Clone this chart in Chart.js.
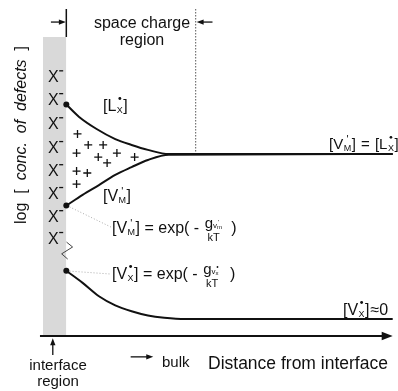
<!DOCTYPE html>
<html>
<head>
<meta charset="utf-8">
<script src="https://cdn.jsdelivr.net/npm/chart.js@4"></script>
<style>
  html, body { margin: 0; padding: 0; background: #fff; }
  #chart { display: block; }
</style>
</head>
<body>
<canvas id="chart" width="398" height="391"></canvas>
<script>
// distance from interface (arbitrary units, interface edge = 0) and log concentration
const distL = [0, 0.55, 1.3, 2.1, 2.8, 3.5, 4.4, 14];
const logL = [7.1, 6.72, 6.35, 6.04, 5.86, 5.71, 5.58, 5.58];
const distVM = [0, 0.7, 1.4, 2.1, 2.8, 3.5, 4.4, 14];
const logVM = [4.0, 4.33, 4.63, 4.94, 5.18, 5.40, 5.56, 5.58];
const distVX = [0, 0.7, 1.4, 2.1, 2.8, 3.5, 4.2, 5.1, 14];
const logVX = [2.0, 1.63, 1.22, 0.94, 0.76, 0.63, 0.56, 0.52, 0.52];
// positive charges in the space charge region
const plusX = [0.48, 0.94, 1.58, 0.44, 1.37, 2.17, 1.75, 2.93, 0.44, 0.90, 0.44];
const plusY = [6.20, 5.86, 5.86, 5.61, 5.49, 5.61, 5.31, 5.49, 5.06, 5.00, 4.66];
// negative charges in the interface region
const chargeY = [7.97, 7.27, 6.53, 5.80, 5.09, 4.39, 3.68, 3.01];
const interfaceStart = -1;
const bandTop = 9.17;
const spaceChargeEnd = 5.55;

const FONT = '"Liberation Sans", Arial, Helvetica, sans-serif';
const INK = '#111';

const pts = (xs, ys) => xs.map((x, i) => ({ x, y: ys[i] }));
const firstDot = (n) => Array.from({ length: n }, (_, i) => (i === 0 ? 3 : 0));

function arrow(ctx, x1, y1, x2, y2, head) {
  const a = Math.atan2(y2 - y1, x2 - x1);
  ctx.beginPath();
  ctx.moveTo(x1, y1);
  ctx.lineTo(x2 - Math.cos(a) * head * 0.8, y2 - Math.sin(a) * head * 0.8);
  ctx.stroke();
  ctx.beginPath();
  ctx.moveTo(x2, y2);
  ctx.lineTo(x2 - head * Math.cos(a) + head * 0.38 * Math.sin(a), y2 - head * Math.sin(a) - head * 0.38 * Math.cos(a));
  ctx.lineTo(x2 - head * Math.cos(a) - head * 0.38 * Math.sin(a), y2 - head * Math.sin(a) + head * 0.38 * Math.cos(a));
  ctx.closePath();
  ctx.fill();
}

// draws [A_sub^sup] and returns the x where it ends
function species(ctx, x, y, letter, sub, sup, size) {
  ctx.font = `${size}px ${FONT}`;
  ctx.fillText('[' + letter, x, y);
  let cx = x + ctx.measureText('[' + letter).width;
  const small = Math.round(size * 0.58);
  ctx.font = `${small}px ${FONT}`;
  const w = ctx.measureText(sub).width;
  ctx.fillText(sub, cx + 0.5, y + size * 0.12);
  if (sup === 'dot') {
    ctx.beginPath();
    ctx.arc(cx + 0.5 + w / 2, y - size * 0.78, size * 0.09, 0, Math.PI * 2);
    ctx.fill();
  } else {
    ctx.font = `${Math.round(size * 0.7)}px ${FONT}`;
    ctx.fillText("'", cx + w / 2 - 0.5, y - size * 0.38);
  }
  cx += w + 1;
  ctx.font = `${size}px ${FONT}`;
  ctx.fillText(']', cx, y);
  return cx + ctx.measureText(']').width;
}

function text(ctx, s, x, y, size, style) {
  ctx.font = `${style || ''} ${size}px ${FONT}`;
  ctx.fillText(s, x, y);
  return x + ctx.measureText(s).width;
}

function expFormula(ctx, x, y, letter, sub, sup) {
  let cx = species(ctx, x, y, letter, sub, sup, 16);
  cx = text(ctx, ' = exp( - ', cx, y, 16);
  // fraction g / kT
  const gx = cx + 1;
  let nx = text(ctx, 'g', gx, y - 5, 15);
  ctx.font = `8px ${FONT}`;
  ctx.fillText('v', nx, y - 5);
  const vw = ctx.measureText('v').width;
  ctx.font = `6px ${FONT}`;
  ctx.fillText(sub.toLowerCase(), nx + vw, y - 4);
  if (sup === 'dot') {
    ctx.beginPath();
    ctx.arc(nx + vw + 2, y - 12, 0.9, 0, Math.PI * 2);
    ctx.fill();
  } else {
    ctx.fillText("'", nx + vw + 1, y - 9.5);
  }
  const numEnd = nx + vw + 5.5;
  ctx.font = `11px ${FONT}`;
  const kw = ctx.measureText('kT').width;
  ctx.fillText('kT', gx + (numEnd - gx - kw) / 2, y + 8);
  text(ctx, '  )', numEnd, y, 16);
}

const annotate = {
  id: 'annotate',
  afterDatasetsDraw(chart) {
    const ctx = chart.ctx;
    const X = (v) => chart.scales.x.getPixelForValue(v);
    const Y = (v) => chart.scales.y.getPixelForValue(v);
    ctx.save();
    ctx.fillStyle = INK;
    ctx.strokeStyle = INK;
    ctx.textBaseline = 'alphabetic';

    // region arrows at top
    ctx.lineWidth = 1.3;
    arrow(ctx, X(-0.66), Y(9.63), X(-0.02), Y(9.63), 7);
    arrow(ctx, X(6.27), Y(9.63), X(spaceChargeEnd + 0.04), Y(9.63), 7);
    ctx.textAlign = 'center';
    text(ctx, 'space charge', 142, 28, 16);
    text(ctx, 'region', 142, 45, 16);

    // x axis arrow head
    ctx.lineWidth = 2;
    arrow(ctx, X(13.4), Y(0), X(14), Y(0), 11);

    // interface region / bulk arrows
    ctx.lineWidth = 1.3;
    arrow(ctx, X(-0.58), Y(-0.58), X(-0.58), Y(-0.07), 7);
    arrow(ctx, X(2.76), Y(-0.64), X(3.73), Y(-0.64), 7);
    ctx.textAlign = 'center';
    text(ctx, 'interface', 58, 370, 15);
    text(ctx, 'region', 58, 386, 15);
    ctx.textAlign = 'left';
    text(ctx, 'bulk', 162, 367, 15);
    text(ctx, 'Distance from interface', 208, 369, 17.5);

    // X- charges in the interface region
    chargeY.forEach((v) => {
      const cy = Y(v);
      const e = text(ctx, 'X', 48, cy + 6, 16);
      ctx.fillRect(e + 0.5, cy - 6, 4, 1.3);
    });

    // species labels
    species(ctx, 103, 111, 'L', 'X', 'dot', 16);
    species(ctx, 103, 201, 'V', 'M', 'prime', 16);
    let cx = species(ctx, 329, 149, 'V', 'M', 'prime', 15);
    cx = text(ctx, ' = ', cx + 1, 149, 15);
    species(ctx, cx + 1, 149, 'L', 'X', 'dot', 15);
    expFormula(ctx, 112, 233, 'V', 'M', 'prime');
    expFormula(ctx, 112, 279, 'V', 'X', 'dot');
    cx = species(ctx, 343, 315, 'V', 'X', 'dot', 16);
    text(ctx, '\u22480', cx + 1, 315, 16);

    // y axis title
    ctx.save();
    ctx.translate(22, 135);
    ctx.rotate(-Math.PI / 2);
    const parts = [['log  [  ', ''], ['conc.  of  defects', 'italic'], ['  ]', '']];
    let total = 0;
    parts.forEach(([s, st]) => { ctx.font = `${st} 16px ${FONT}`; total += ctx.measureText(s).width; });
    let tx = -total / 2;
    ctx.textBaseline = 'middle';
    parts.forEach(([s, st]) => { tx = text(ctx, s, tx, 0, 16, st); });
    ctx.restore();

    ctx.restore();
  }
};

const lineDs = (data, extra) => Object.assign({
  data, borderColor: INK, borderWidth: 2, pointRadius: 0, tension: 0, fill: false, clip: false
}, extra);

new Chart(document.getElementById('chart'), {
  type: 'line',
  data: {
    datasets: [
      lineDs(pts(distL, logL), { cubicInterpolationMode: 'monotone', pointRadius: firstDot(distL.length), pointBackgroundColor: INK, pointBorderWidth: 0 }),
      lineDs(pts(distVM, logVM), { cubicInterpolationMode: 'monotone', pointRadius: firstDot(distVM.length), pointBackgroundColor: INK, pointBorderWidth: 0 }),
      lineDs(pts(distVX, logVX), { cubicInterpolationMode: 'monotone', pointRadius: firstDot(distVX.length), pointBackgroundColor: INK, pointBorderWidth: 0 }),
      // positive charges
      { type: 'scatter', data: pts(plusX, plusY), pointStyle: 'cross', pointRadius: 4, borderColor: INK, borderWidth: 1.3, showLine: false, clip: false },
      // x axis
      lineDs([{ x: -1.13, y: 0 }, { x: 13.6, y: 0 }]),
      // interface marker and space charge boundary
      lineDs([{ x: 0, y: 10.03 }, { x: 0, y: bandTop }], { borderWidth: 1.5 }),
      lineDs([{ x: spaceChargeEnd, y: 10.03 }, { x: spaceChargeEnd, y: 5.6 }], { borderWidth: 1, borderColor: '#555', borderDash: [1.5, 1.5] }),
      // leader lines
      lineDs([{ x: 0.14, y: 3.96 }, { x: 1.92, y: 3.34 }], { borderWidth: 1, borderColor: '#aaa', borderDash: [1, 2] }),
      lineDs([{ x: 0.14, y: 1.99 }, { x: 1.92, y: 1.90 }], { borderWidth: 1, borderColor: '#aaa', borderDash: [1, 2] }),
      // break mark
      lineDs([{ x: 0.01, y: 2.88 }, { x: 0.27, y: 2.73 }, { x: -0.2, y: 2.52 }, { x: 0.06, y: 2.36 }], { borderWidth: 1, borderColor: '#444' }),
      // interface region band
      lineDs([{ x: interfaceStart, y: bandTop }, { x: 0, y: bandTop }], { borderWidth: 0, fill: 'origin', backgroundColor: '#d9d9d9', order: 10 })
    ]
  },
  options: {
    responsive: false,
    animation: false,
    layout: { padding: { left: 43, right: 0, top: 10, bottom: 55 } },
    plugins: { legend: { display: false }, tooltip: { enabled: false } },
    scales: {
      x: { type: 'linear', min: -1, max: 14, display: false },
      y: { type: 'linear', min: 0, max: 10, display: false }
    }
  },
  plugins: [annotate]
});
</script>
</body>
</html>
